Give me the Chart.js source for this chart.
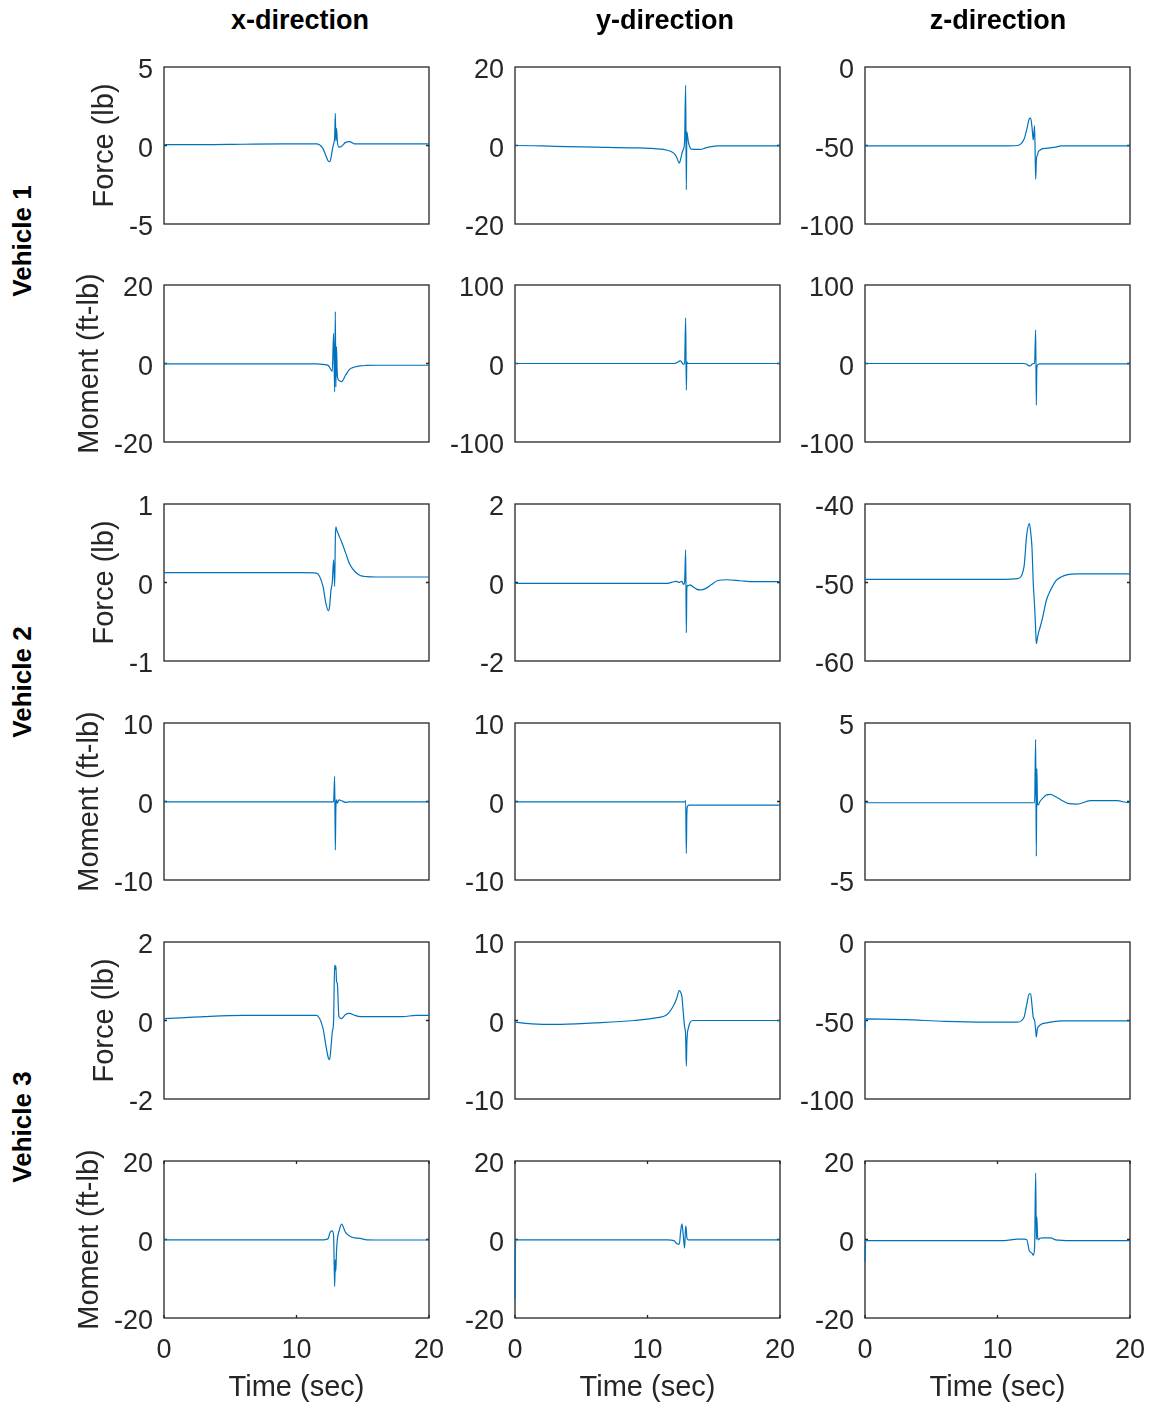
<!DOCTYPE html>
<html>
<head>
<meta charset="utf-8">
<script src="https://cdn.jsdelivr.net/npm/chart.js@4"></script>
<style>
  body { margin: 0; background: #fff; }
  #page { position: relative; width: 1150px; height: 1410px; font-family: "Liberation Sans", Arial, sans-serif; color: #000; }
  #page canvas { position: absolute; }
  .coltitle { position: absolute; top: 5px; font-weight: bold; font-size: 27px; line-height: 30px; white-space: nowrap; transform: translateX(-50%); }
  .rowtitle { position: absolute; font-weight: bold; font-size: 26px; line-height: 30px; white-space: nowrap; transform: translate(-50%, -50%) rotate(-90deg); }
</style>
</head>
<body>
<div id="page"></div>
<script>
// shared time base (sec)
const timeGrid = [0, 0.05, 3, 6, 9, 10.5, 11.5,
                  12.0, 12.2, 12.4, 12.5, 12.6, 12.7, 12.8,
                  12.88, 12.93, 12.97, 13.02, 13.08,
                  13.2, 13.4, 13.7, 14.0, 14.4, 14.8, 15.3,
                  16, 17, 18, 19, 19.95, 20];
const xTicks = [0, 10, 20];

const columnTitles = ['x-direction', 'y-direction', 'z-direction'];
const vehicleLabels = ['Vehicle 1', 'Vehicle 2', 'Vehicle 3'];
const quantityLabels = ['Force (lb)', 'Moment (ft-lb)'];

// Vehicle 1
const v1ForceX = [0.05, 0.05, 0.05, 0.08, 0.1, 0.1, 0.1, -0.2, -0.6, -1.0, -1.03, -0.8, -0.3, 0.1, 0.5, 2.05, 0.3, 1.1, 0.3, -0.1, -0.05, 0.2, 0.25, 0.1, 0.1, 0.1, 0.1, 0.1, 0.1, 0.1, 0.1, 0.1];
const v1ForceY = [-0.1, 0, -0.2, -0.4, -0.6, -0.8, -1.2, -2.0, -3.0, -4.5, -3.5, -2.0, -1.0, 1.0, 15.4, -11.3, 3.5, 2.5, 1.0, -0.5, -1.0, -1.0, -1.0, -0.6, -0.3, -0.1, -0.1, -0.1, -0.1, -0.1, -0.1, -0.1];
const v1ForceZ = [-50, -50.3, -50.3, -50.3, -50.3, -50.3, -50, -46, -40, -33, -32.5, -38, -46.5, -37.4, -71.5, -60, -57, -56, -54, -53, -52, -51.8, -51.5, -51, -50.3, -50.3, -50.3, -50.3, -50.3, -50.3, -50.3, -50.3];
const v1MomentX = [-0.1, -0.1, -0.1, -0.1, -0.1, -0.1, -0.1, -0.2, -0.3, -0.5, -1.0, -1.6, -2.0, 7.7, -7.2, 13.2, -6.0, 4.3, -3.0, -4.3, -4.6, -3.0, -1.5, -0.9, -0.6, -0.5, -0.45, -0.45, -0.45, -0.45, -0.45, -0.45];
const v1MomentY = [0, 0, 0, 0, 0, 0, 0, 0, 1, 3, 3.5, 1, -1, 0, 58, -34, 2, 0, 0, 0, 0, 0, 0, 0, 0, 0, 0, 0, 0, 0, 0, 0];
const v1MomentZ = [2, 0, 0, 0, 0, 0, 0, 0, -1, -3, -3, -1, 0, 0, 42.7, -52.9, -5, -2, -1, -0.5, -0.5, -0.5, -0.5, -0.5, -0.5, -0.5, -0.5, -0.5, -0.5, -0.5, -0.5, -0.5];

// Vehicle 2
const v2ForceX = [0.125, 0.125, 0.125, 0.125, 0.125, 0.125, 0.12, -0.05, -0.25, -0.36, -0.3, -0.1, 0.0, 0.29, -0.05, 0.55, 0.71, 0.68, 0.65, 0.6, 0.52, 0.38, 0.24, 0.14, 0.09, 0.075, 0.07, 0.07, 0.07, 0.07, 0.07, 0.07];
const v2ForceY = [-0.02, -0.02, -0.02, -0.02, -0.02, -0.02, -0.02, 0.02, 0.03, 0.0, 0.02, 0.03, -0.05, 0.0, 0.83, -1.28, -0.15, -0.07, -0.08, -0.06, -0.1, -0.17, -0.19, -0.15, -0.06, 0.05, 0.07, 0.045, 0.02, 0.02, 0.02, 0.02];
const v2ForceZ = [-49.6, -49.6, -49.6, -49.6, -49.6, -49.6, -49.5, -48, -44, -42.5, -43.5, -45.5, -50.1, -53, -56, -57.8, -57.5, -57, -56.5, -55.8, -54.5, -52.2, -51, -49.8, -49.3, -49, -48.9, -48.9, -48.9, -48.9, -48.9, -48.8];
const v2MomentX = [-0.05, -0.05, -0.05, -0.05, -0.05, -0.05, -0.05, -0.05, -0.05, -0.05, -0.05, -0.05, -0.05, 0, 3.2, -6.2, -1, 0.2, -0.2, 0.2, 0.1, -0.1, -0.05, -0.05, -0.05, -0.05, -0.05, -0.05, -0.05, -0.05, -0.05, -0.05];
const v2MomentY = [-0.05, -0.05, -0.05, -0.05, -0.05, -0.05, -0.05, -0.05, -0.05, -0.05, -0.05, -0.05, -0.05, -0.05, 0.1, -6.6, -1.5, -0.6, -0.5, -0.45, -0.45, -0.45, -0.45, -0.45, -0.45, -0.45, -0.45, -0.45, -0.45, -0.45, -0.45, -0.45];
const v2MomentZ = [-0.08, -0.08, -0.08, -0.08, -0.08, -0.08, -0.08, -0.08, -0.08, -0.08, -0.08, -0.08, -0.08, -0.08, 3.96, -3.5, 2.1, -0.2, -0.22, 0.0, 0.2, 0.42, 0.45, 0.3, 0.1, -0.12, -0.17, 0.05, 0.05, 0.05, -0.08, 0.05];

// Vehicle 3
const v3ForceX = [0.05, 0.05, 0.1, 0.13, 0.13, 0.13, 0.13, -0.2, -0.6, -0.95, -1.0, -0.7, -0.3, 0.0, 1.41, 1.3, 1.4, 1.0, 0.95, 0.1, 0.05, 0.15, 0.18, 0.13, 0.1, 0.1, 0.1, 0.1, 0.1, 0.13, 0.13, 0.13];
const v3ForceY = [0.0, -0.2, -0.5, -0.3, 0.0, 0.3, 0.8, 2.0, 2.8, 3.8, 3.6, 3.0, 1.0, -0.8, -2.0, -5.8, -2.9, -1.5, -1.0, -0.3, 0.0, 0, 0, 0, 0, 0, 0, 0, 0, 0, 0, 0];
const v3ForceZ = [-55, -49, -49.5, -50.5, -51, -51, -51, -48, -40, -33, -33, -40, -48, -50, -56, -60.5, -58, -55, -54, -53, -52, -51.5, -51, -50.5, -50.3, -50.3, -50.3, -50.3, -50.3, -50.3, -50.3, -50.3];
const v3MomentX = [-0.1, -0.1, -0.1, -0.1, -0.1, -0.1, -0.1, -0.1, 0.0, 0.3, 1.5, 2.1, 2.2, 1.0, -12.0, -5.2, -8, -3, 0.0, 2.0, 3.9, 1.8, 0.9, 0.4, 0.3, -0.1, -0.13, -0.13, -0.13, -0.13, -0.13, -0.13];
const v3MomentY = [-15, -0.1, -0.1, -0.1, -0.1, -0.1, -0.1, -0.3, -1.0, -1.2, 2.0, 4.0, 1.0, -2.2, 3.4, 2.5, 0.5, 0, -0.1, -0.1, -0.1, -0.1, -0.1, -0.1, -0.1, -0.1, -0.1, -0.1, -0.1, -0.1, -0.1, -0.1];
const v3MomentZ = [-5.7, -0.3, -0.3, -0.3, -0.3, -0.3, 0.1, 0.1, 0.0, -2.9, -3.2, -3.5, -4.0, -2.0, 16.9, 0.0, 5.8, 1.0, -0.1, 0.3, 0.4, 0.4, 0.4, -0.1, -0.2, -0.3, -0.3, -0.3, -0.3, -0.3, -0.3, -0.3];

// y tick labels (min, mid, max) per panel, row by row
const yTicksV1Force = [[-5, 0, 5], [-20, 0, 20], [-100, -50, 0]];
const yTicksV1Moment = [[-20, 0, 20], [-100, 0, 100], [-100, 0, 100]];
const yTicksV2Force = [[-1, 0, 1], [-2, 0, 2], [-60, -50, -40]];
const yTicksV2Moment = [[-10, 0, 10], [-10, 0, 10], [-5, 0, 5]];
const yTicksV3Force = [[-2, 0, 2], [-10, 0, 10], [-100, -50, 0]];
const yTicksV3Moment = [[-20, 0, 20], [-20, 0, 20], [-20, 0, 20]];

const rowValues = [
  [v1ForceX, v1ForceY, v1ForceZ],
  [v1MomentX, v1MomentY, v1MomentZ],
  [v2ForceX, v2ForceY, v2ForceZ],
  [v2MomentX, v2MomentY, v2MomentZ],
  [v3ForceX, v3ForceY, v3ForceZ],
  [v3MomentX, v3MomentY, v3MomentZ]
];
const rowTicks = [yTicksV1Force, yTicksV1Moment, yTicksV2Force, yTicksV2Moment, yTicksV3Force, yTicksV3Moment];

// layout (px)
const colLeft = [164, 515, 865];
const rowTop = [67, 285, 504, 723, 942, 1161];
const PLOT_W = 265, PLOT_H = 157;
const PAD_T = 30, PAD_B = 30, PAD_R = 34, X_AXIS_H = 87;
const FORCE_AXIS_W = 78, MOMENT_AXIS_W = 93;   // moment labels sit further left (wider tick labels)
const LINE_COLOR = '#0072BD';
const AXIS_COLOR = '#262626';

Chart.defaults.font.family = '"Liberation Sans", Arial, sans-serif';

// MATLAB style box with short inward tick marks (drawn under the trace)
const boxPlugin = {
  id: 'box',
  beforeDatasetsDraw(chart, args, opts) {
    const { ctx, chartArea: a } = chart;
    ctx.save();
    ctx.strokeStyle = AXIS_COLOR;
    ctx.lineWidth = 1.3;
    ctx.strokeRect(a.left, a.top, a.right - a.left, a.bottom - a.top);
    ctx.beginPath();
    const ys = chart.scales.y;
    const py = ys.getPixelForValue(opts.midTick);
    ctx.moveTo(a.left, py); ctx.lineTo(a.left + 3, py);
    ctx.moveTo(a.right, py); ctx.lineTo(a.right - 3, py);
    if (opts.showX) {
      const xs = chart.scales.x;
      xTicks.forEach(v => {
        const px = xs.getPixelForValue(v);
        ctx.moveTo(px, a.bottom); ctx.lineTo(px, a.bottom - 3);
        ctx.moveTo(px, a.top); ctx.lineTo(px, a.top + 3);
      });
    }
    ctx.stroke();
    ctx.restore();
  }
};

const page = document.getElementById('page');

function addText(cls, text, left, top) {
  const d = document.createElement('div');
  d.className = cls;
  d.textContent = text;
  d.style.left = left + 'px';
  d.style.top = top + 'px';
  page.appendChild(d);
}

function makePanel(row, col) {
  const values = rowValues[row][col];
  const ticks = rowTicks[row][col];
  const isBottom = row === rowTop.length - 1;
  const isMoment = row % 2 === 1;
  const yAxisW = isMoment ? MOMENT_AXIS_W : FORCE_AXIS_W;

  const canvas = document.createElement('canvas');
  canvas.width = yAxisW + PLOT_W + PAD_R;
  canvas.height = PAD_T + PLOT_H + (isBottom ? X_AXIS_H : PAD_B);
  canvas.style.left = (colLeft[col] - yAxisW) + 'px';
  canvas.style.top = (rowTop[row] - PAD_T) + 'px';
  page.appendChild(canvas);

  new Chart(canvas, {
    type: 'line',
    data: {
      datasets: [{
        data: timeGrid.map((t, i) => ({ x: t, y: values[i] })),
        borderColor: LINE_COLOR,
        borderWidth: 1.2,
        pointRadius: 0,
        clip: 2,
        cubicInterpolationMode: 'monotone'
      }]
    },
    options: {
      responsive: false,
      animation: false,
      events: [],
      layout: { padding: { top: PAD_T, right: PAD_R, bottom: isBottom ? 0 : PAD_B, left: 0 } },
      plugins: {
        legend: { display: false },
        tooltip: { enabled: false },
        box: { showX: isBottom, midTick: ticks[1] }
      },
      scales: {
        x: {
          type: 'linear',
          min: 0,
          max: 20,
          display: isBottom,
          afterBuildTicks: s => { s.ticks = xTicks.map(v => ({ value: v })); },
          afterFit: s => { if (isBottom) s.height = X_AXIS_H; },
          grid: { display: false, drawTicks: false },
          border: { display: false },
          ticks: { padding: 16, font: { size: 27 }, color: AXIS_COLOR, maxRotation: 0, autoSkip: false, callback: v => String(v) },
          title: { display: true, text: 'Time (sec)', font: { size: 29 }, color: AXIS_COLOR, padding: { top: 0, bottom: 0 } }
        },
        y: {
          type: 'linear',
          min: ticks[0],
          max: ticks[2],
          afterBuildTicks: s => { s.ticks = ticks.map(v => ({ value: v })); },
          afterFit: s => { s.width = yAxisW; },
          grid: { display: false, drawTicks: false },
          border: { display: false },
          ticks: { padding: 11, labelOffset: 4, font: { size: 27 }, color: AXIS_COLOR, autoSkip: false, callback: v => String(v) },
          title: { display: col === 0, text: quantityLabels[row % 2], font: { size: 29 }, color: AXIS_COLOR, padding: { top: 1.5, bottom: 0 } }
        }
      }
    },
    plugins: [boxPlugin]
  });
}

for (let r = 0; r < rowTop.length; r++) {
  for (let c = 0; c < colLeft.length; c++) makePanel(r, c);
}

const colTitleX = [300, 665, 998];
columnTitles.forEach((t, i) => addText('coltitle', t, colTitleX[i], 5));
const vehicleLabelY = [241, 682, 1127];
vehicleLabels.forEach((t, i) => addText('rowtitle', t, 22, vehicleLabelY[i]));
</script>
</body>
</html>
